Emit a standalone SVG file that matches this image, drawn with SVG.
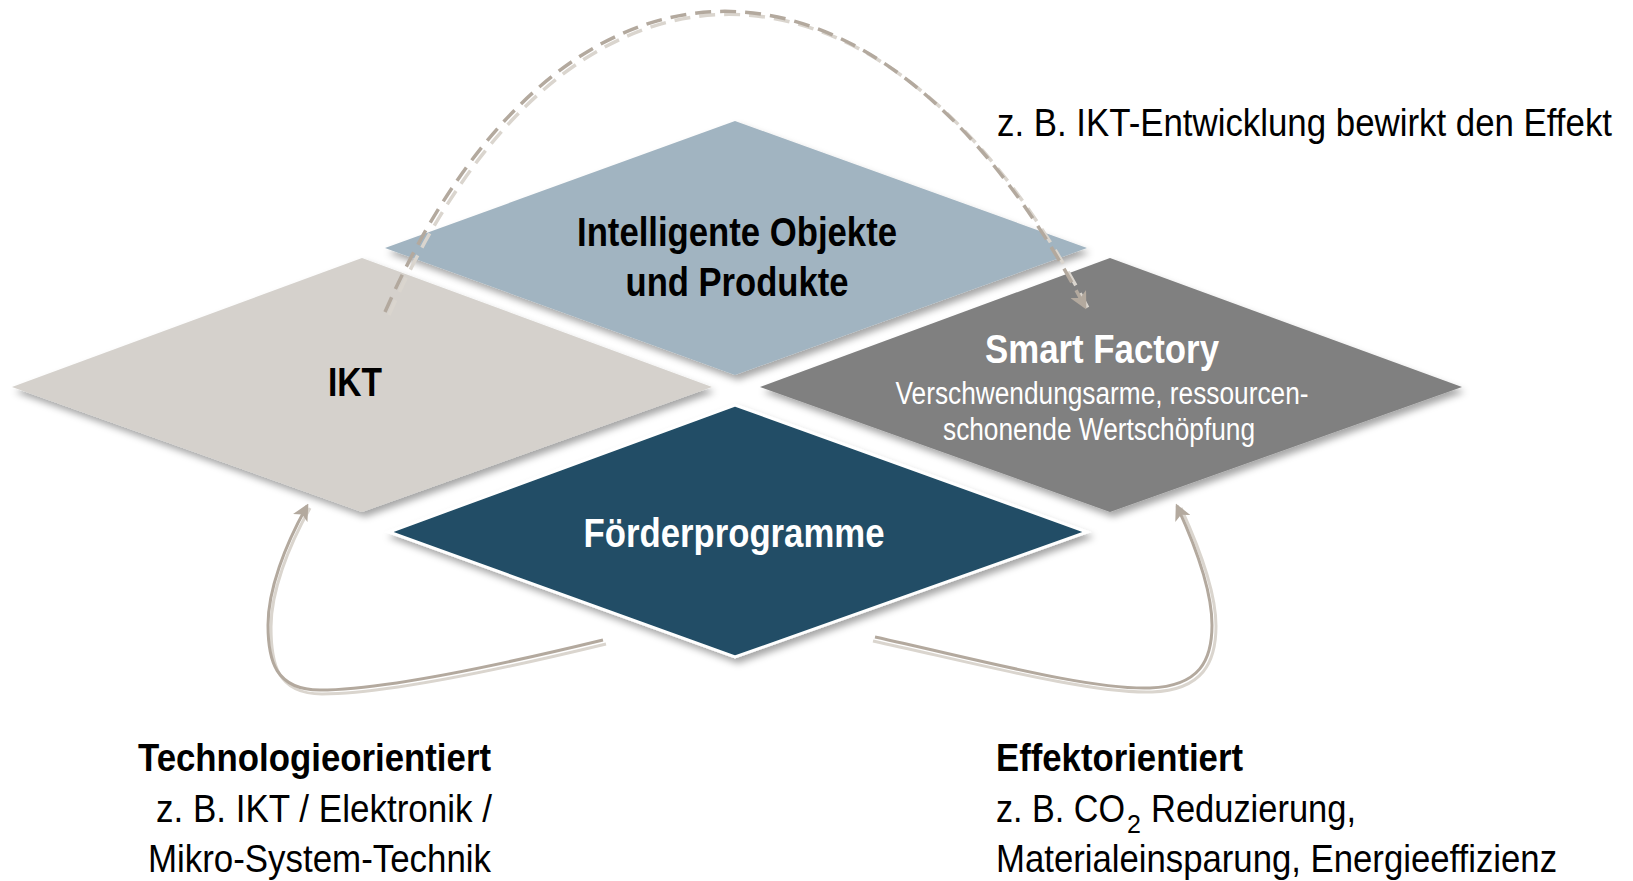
<svg xmlns="http://www.w3.org/2000/svg" width="1633" height="881" viewBox="0 0 1633 881">
<defs>
<filter id="sh" x="-10%" y="-10%" width="120%" height="130%">
<feDropShadow dx="3" dy="5" stdDeviation="3.5" flood-color="#000" flood-opacity="0.35"/>
</filter>
<marker id="ah" viewBox="0 0 12 12" refX="10" refY="6" markerWidth="5.5" markerHeight="5.5" orient="auto" markerUnits="strokeWidth">
<path d="M0,0 L12,6 L0,12 L3,6 Z" fill="#B3A99E"/>
</marker>
<marker id="ahd" viewBox="0 0 12 12" refX="10" refY="6" markerWidth="5" markerHeight="5" orient="auto" markerUnits="strokeWidth">
<path d="M0,0 L12,6 L0,12 L3,6 Z" fill="#B3A99E"/>
</marker>
</defs>
<style>
.b{font-family:"Liberation Sans Narrow","Liberation Sans",Arial,sans-serif;font-weight:bold;}
.r{font-family:"Liberation Sans Narrow","Liberation Sans",Arial,sans-serif;}
.dk{fill:#000;}
.wh{fill:#fff;}
.lt{fill:none;stroke:#DAD5CE;stroke-width:3;}
.dl{fill:none;stroke:#B3A99E;stroke-width:3;}
</style>
<rect width="1633" height="881" fill="#fff"/>

<g id="node-ikt">
<polygon points="12,387 362,258 712,387 362,512" fill="#D5D1CC" filter="url(#sh)"/>
<text class="b dk" x="355" y="396" font-size="40" text-anchor="middle" textLength="54" lengthAdjust="spacingAndGlyphs">IKT</text>
</g>

<g id="node-objekte">
<polygon points="385,248 735,121 1087,248 735,375" fill="#A1B4C1" filter="url(#sh)"/>
<text class="b dk" x="737" y="246" font-size="40" text-anchor="middle" textLength="320" lengthAdjust="spacingAndGlyphs">Intelligente Objekte</text>
<text class="b dk" x="737" y="296" font-size="40" text-anchor="middle" textLength="223" lengthAdjust="spacingAndGlyphs">und Produkte</text>
</g>

<g id="node-smart">
<polygon points="760,387 1110,258 1462,387 1110,512" fill="#808080" filter="url(#sh)"/>
<text class="b wh" x="1102" y="363" font-size="40" text-anchor="middle" textLength="234" lengthAdjust="spacingAndGlyphs">Smart Factory</text>
<text class="r wh" x="1102" y="404" font-size="31" text-anchor="middle" textLength="413" lengthAdjust="spacingAndGlyphs">Verschwendungsarme, ressourcen-</text>
<text class="r wh" x="1099" y="440" font-size="31" text-anchor="middle" textLength="312" lengthAdjust="spacingAndGlyphs">schonende Wertschöpfung</text>
</g>

<g id="node-foerder">
<polygon points="389,532 735,405 1087,532 735,657" fill="#214E66" stroke="#fff" stroke-width="3" filter="url(#sh)"/>
<text class="b wh" x="734" y="547" font-size="40" text-anchor="middle" textLength="301" lengthAdjust="spacingAndGlyphs">Förderprogramme</text>
</g>

<g id="connectors">
<path d="M389 315 C 564 -85, 884 -85, 1089 310" fill="none" stroke="#DAD5CE" stroke-width="3.5" stroke-dasharray="16,9"/>
<path d="M385 312 C 560 -88, 880 -88, 1085 307" fill="none" stroke="#B3A99E" stroke-width="3.5" stroke-dasharray="16,9" marker-end="url(#ahd)"/>
<path class="lt" d="M606 644 C 503 669, 383 694, 322 694 C 276 694, 271 662, 271 627 C 271 592, 288 547, 310 508"/>
<path class="dl" d="M603 640 C 500 665, 380 690, 320 690 C 275 690, 268 660, 268 625 C 268 590, 285 545, 307 506" marker-end="url(#ah)"/>
<path class="lt" d="M873 641 C 978 664, 1092 694, 1152 692 C 1203 690, 1216 662, 1216 626 C 1216 592, 1199 547, 1181 508"/>
<path class="dl" d="M875 637 C 980 660, 1090 690, 1150 688 C 1200 686, 1212 660, 1212 625 C 1212 590, 1195 545, 1177 506" marker-end="url(#ah)"/>
</g>

<g id="label-effekt">
<text class="r dk" x="997" y="136" font-size="38" textLength="615" lengthAdjust="spacingAndGlyphs">z. B. IKT-Entwicklung bewirkt den Effekt</text>
</g>

<g id="label-technologie">
<text class="b dk" x="138" y="771" font-size="39" textLength="353" lengthAdjust="spacingAndGlyphs">Technologieorientiert</text>
<text class="r dk" x="156" y="822" font-size="39" textLength="336" lengthAdjust="spacingAndGlyphs">z. B. IKT / Elektronik /</text>
<text class="r dk" x="148" y="872" font-size="39" textLength="343" lengthAdjust="spacingAndGlyphs">Mikro-System-Technik</text>
</g>

<g id="label-effektor">
<text class="b dk" x="996" y="771" font-size="39" textLength="247" lengthAdjust="spacingAndGlyphs">Effektorientiert</text>
<text class="r dk" font-size="39"><tspan x="996" y="822" textLength="129" lengthAdjust="spacingAndGlyphs">z. B. CO</tspan><tspan x="1127" y="833" font-size="25">2</tspan><tspan x="1151" y="822" textLength="205" lengthAdjust="spacingAndGlyphs">Reduzierung,</tspan></text>
<text class="r dk" x="996" y="872" font-size="39" textLength="561" lengthAdjust="spacingAndGlyphs">Materialeinsparung, Energieeffizienz</text>
</g>
</svg>
